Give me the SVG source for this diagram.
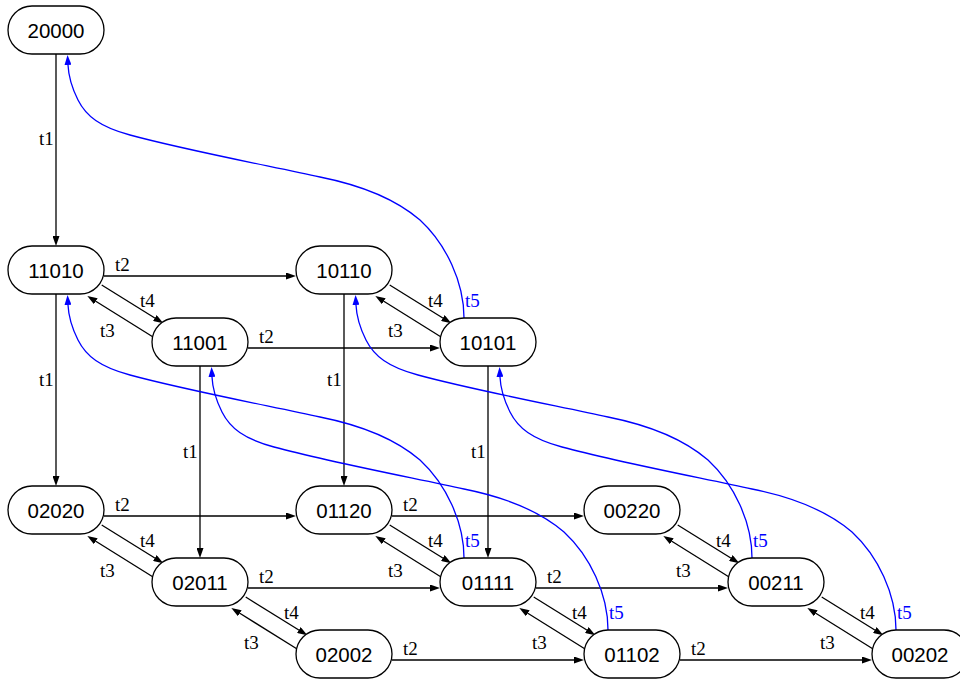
<svg xmlns="http://www.w3.org/2000/svg" width="960" height="679" viewBox="0 0 960 679">
<style>
.n rect{fill:#fff;stroke:#000;stroke-width:1.3}
.n text{font-family:"Liberation Sans",Arial,sans-serif;font-size:20.5px;text-anchor:middle;fill:#000}
.e line{stroke:#000;stroke-width:1.3;fill:none;marker-end:url(#ab)}
.e path{stroke:#0000ff;stroke-width:1.3;fill:none;marker-end:url(#ablue)}
.l{font-family:"Liberation Serif","Times New Roman",serif;font-size:19px;fill:#000}
.lb{font-family:"Liberation Serif","Times New Roman",serif;font-size:19px;fill:#0000ff}
</style>
<defs>
<marker id="ab" viewBox="0 0 10 7" refX="0" refY="3.5" markerWidth="10" markerHeight="7" markerUnits="userSpaceOnUse" orient="auto"><path d="M0,0 L10,3.5 L0,7 z" fill="#000"/></marker>
<marker id="ablue" viewBox="0 0 10 7" refX="0" refY="3.5" markerWidth="10" markerHeight="7" markerUnits="userSpaceOnUse" orient="auto"><path d="M0,0 L10,3.5 L0,7 z" fill="#0000ff"/></marker>
</defs>
<rect width="960" height="679" fill="#fff"/>
<g id="connectors" class="e">
<!-- t1 verticals -->
<line x1="56" y1="54" x2="56" y2="236"/>
<line x1="56" y1="294" x2="56" y2="476"/>
<line x1="344" y1="294" x2="344" y2="476"/>
<line x1="200" y1="366" x2="200" y2="548"/>
<line x1="488" y1="366" x2="488" y2="548"/>
<!-- t2 horizontals -->
<line x1="104" y1="276" x2="286" y2="276"/>
<line x1="248" y1="348" x2="430" y2="348"/>
<line x1="104" y1="516" x2="286" y2="516"/>
<line x1="392" y1="516" x2="574" y2="516"/>
<line x1="248" y1="588" x2="430" y2="588"/>
<line x1="536" y1="588" x2="718" y2="588"/>
<line x1="392" y1="660" x2="574" y2="660"/>
<line x1="680" y1="660" x2="862" y2="660"/>
<!-- t4 / t3 diagonals -->
<line x1="101.7" y1="285" x2="154.8" y2="318"/>
<line x1="152.7" y1="336.7" x2="95.8" y2="301.3"/>
<line x1="389.7" y1="285" x2="442.8" y2="318"/>
<line x1="440.7" y1="336.7" x2="383.8" y2="301.3"/>
<line x1="101.7" y1="525" x2="154.8" y2="558"/>
<line x1="152.7" y1="576.7" x2="95.8" y2="541.3"/>
<line x1="245.7" y1="597" x2="298.8" y2="630"/>
<line x1="296.7" y1="648.7" x2="239.8" y2="613.3"/>
<line x1="389.7" y1="525" x2="442.8" y2="558"/>
<line x1="440.7" y1="576.7" x2="383.8" y2="541.3"/>
<line x1="533.7" y1="597" x2="586.8" y2="630"/>
<line x1="584.7" y1="648.7" x2="527.8" y2="613.3"/>
<line x1="677.7" y1="525" x2="730.8" y2="558"/>
<line x1="728.7" y1="576.7" x2="671.8" y2="541.3"/>
<line x1="821.7" y1="597" x2="874.8" y2="630"/>
<line x1="872.7" y1="648.7" x2="815.8" y2="613.3"/>
<!-- t5 blue curves -->
<path d="M464,318 C464,282 446,244 420,220 C392,196 355,184 320,177 C270,166 185,150 130,135 C100,127 86,116 78,100 C72,88 68.5,76 68,65"/>
<path transform="translate(0,240)" d="M464,318 C464,282 446,244 420,220 C392,196 355,184 320,177 C270,166 185,150 130,135 C100,127 86,116 78,100 C72,88 68.5,76 68,65"/>
<path transform="translate(144,312)" d="M464,318 C464,282 446,244 420,220 C392,196 355,184 320,177 C270,166 185,150 130,135 C100,127 86,116 78,100 C72,88 68.5,76 68,65"/>
<path transform="translate(288,240)" d="M464,318 C464,282 446,244 420,220 C392,196 355,184 320,177 C270,166 185,150 130,135 C100,127 86,116 78,100 C72,88 68.5,76 68,65"/>
<path transform="translate(432,312)" d="M464,318 C464,282 446,244 420,220 C392,196 355,184 320,177 C270,166 185,150 130,135 C100,127 86,116 78,100 C72,88 68.5,76 68,65"/>
<!-- labels -->
<text class="l" x="39" y="145">t1</text>
<text class="l" x="39" y="386">t1</text>
<text class="l" x="327" y="386">t1</text>
<text class="l" x="183" y="458">t1</text>
<text class="l" x="471" y="458">t1</text>
<text class="l" x="115" y="271">t2</text>
<text class="l" x="259" y="343">t2</text>
<text class="l" x="115" y="511">t2</text>
<text class="l" x="403" y="511">t2</text>
<text class="l" x="259" y="583">t2</text>
<text class="l" x="547" y="583">t2</text>
<text class="l" x="403" y="655">t2</text>
<text class="l" x="691" y="655">t2</text>
<text class="l" x="140" y="307">t4</text>
<text class="l" x="100" y="337">t3</text>
<text class="l" x="428" y="307">t4</text>
<text class="l" x="388" y="337">t3</text>
<text class="l" x="140" y="547">t4</text>
<text class="l" x="100" y="577">t3</text>
<text class="l" x="284" y="619">t4</text>
<text class="l" x="244" y="649">t3</text>
<text class="l" x="428" y="547">t4</text>
<text class="l" x="388" y="577">t3</text>
<text class="l" x="572" y="619">t4</text>
<text class="l" x="532" y="649">t3</text>
<text class="l" x="716" y="547">t4</text>
<text class="l" x="676" y="577">t3</text>
<text class="l" x="860" y="619">t4</text>
<text class="l" x="820" y="649">t3</text>
<text class="lb" x="465" y="307">t5</text>
<text class="lb" x="465" y="547">t5</text>
<text class="lb" x="609" y="619">t5</text>
<text class="lb" x="753" y="547">t5</text>
<text class="lb" x="897" y="619">t5</text>
</g>
<g id="n20000" class="n"><rect x="8" y="6" width="96" height="48" rx="24"/><text x="56" y="37.5">20000</text></g>
<g id="n11010" class="n"><rect x="8" y="246" width="96" height="48" rx="24"/><text x="56" y="277.5">11010</text></g>
<g id="n10110" class="n"><rect x="296" y="246" width="96" height="48" rx="24"/><text x="344" y="277.5">10110</text></g>
<g id="n11001" class="n"><rect x="152" y="318" width="96" height="48" rx="24"/><text x="200" y="349.5">11001</text></g>
<g id="n10101" class="n"><rect x="440" y="318" width="96" height="48" rx="24"/><text x="488" y="349.5">10101</text></g>
<g id="n02020" class="n"><rect x="8" y="486" width="96" height="48" rx="24"/><text x="56" y="517.5">02020</text></g>
<g id="n01120" class="n"><rect x="296" y="486" width="96" height="48" rx="24"/><text x="344" y="517.5">01120</text></g>
<g id="n00220" class="n"><rect x="584" y="486" width="96" height="48" rx="24"/><text x="632" y="517.5">00220</text></g>
<g id="n02011" class="n"><rect x="152" y="558" width="96" height="48" rx="24"/><text x="200" y="589.5">02011</text></g>
<g id="n01111" class="n"><rect x="440" y="558" width="96" height="48" rx="24"/><text x="488" y="589.5">01111</text></g>
<g id="n00211" class="n"><rect x="728" y="558" width="96" height="48" rx="24"/><text x="776" y="589.5">00211</text></g>
<g id="n02002" class="n"><rect x="296" y="630" width="96" height="48" rx="24"/><text x="344" y="661.5">02002</text></g>
<g id="n01102" class="n"><rect x="584" y="630" width="96" height="48" rx="24"/><text x="632" y="661.5">01102</text></g>
<g id="n00202" class="n"><rect x="872" y="630" width="96" height="48" rx="24"/><text x="920" y="661.5">00202</text></g>
</svg>
